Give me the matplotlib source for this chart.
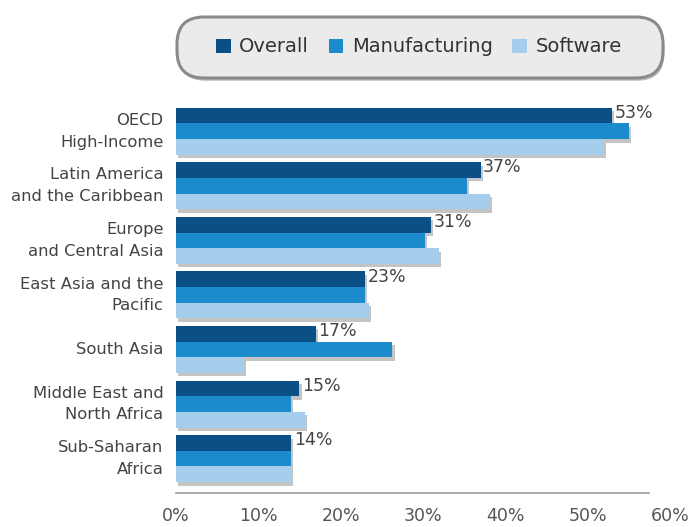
import numpy as np
import matplotlib.pyplot as plt
import matplotlib.patheffects as pe
from matplotlib.patches import FancyBboxPatch
from matplotlib.transforms import Affine2D

regions = ['OECD\nHigh-Income', 'Latin America\nand the Caribbean', 'Europe\nand Central Asia',
           'East Asia and the\nPacific', 'South Asia', 'Middle East and\nNorth Africa',
           'Sub-Saharan\nAfrica']
overall = [53, 37, 31, 23, 17, 15, 14]
manufacturing = [55, 35.3, 30.2, 23, 26.3, 14, 14]
software = [52, 38.2, 32, 23.5, 8.3, 15.7, 14]
xticks = [0, 10, 20, 30, 40, 50, 60]

c_overall = '#0b4f87'
c_manuf = '#1b8bcb'
c_soft = '#a5cdec'
txt = '#444444'

W, H = 697, 527
fig = plt.figure(figsize=(W / 100, H / 100), dpi=100)
ax = fig.add_axes([0.2525, 0.0645, 0.7085, 0.7455])

y = np.arange(len(regions))
h = 0.287
shadow = [pe.SimplePatchShadow(offset=(1.5, -2.5), shadow_rgbFace='#8a8a8a', alpha=0.5), pe.Normal()]

# lower bars drawn on top so each shadow only shows at the bar ends
b1 = ax.barh(y - h, overall, height=h, color=c_overall, label='Overall', path_effects=shadow, zorder=1)
b2 = ax.barh(y, manufacturing, height=h, color=c_manuf, label='Manufacturing', path_effects=shadow, zorder=2)
b3 = ax.barh(y + h, software, height=h, color=c_soft, label='Software', path_effects=shadow, zorder=3)

# value labels next to the overall bars
for yi, v in zip(y, overall):
    ax.text(v + 0.3, yi - h - 0.05, f'{v}%', va='center', ha='left', fontsize=12.5, color=txt, zorder=4)

ax.set_xlim(0, 60)
ax.set_ylim(6.63, -0.57)
ax.set_yticks(y)
ax.set_yticklabels(regions, fontsize=11.8, color=txt, linespacing=1.55, va='center')
ax.set_xticks(xticks)
ax.set_xticklabels([f'{t}%' for t in xticks], fontsize=12.5, color='#555555')
ax.tick_params(length=0)
ax.tick_params(axis='y', pad=9)
ax.tick_params(axis='x', pad=10)
for s in ['top', 'right', 'left']:
    ax.spines[s].set_visible(False)
ax.spines['bottom'].set_color('#999999')
ax.spines['bottom'].set_linewidth(1.2)
ax.spines['bottom'].set_bounds(0, 57.5)

# rounded legend box, laid out in pixel units
px = Affine2D().scale(1 / W, 1 / H) + fig.transFigure
box = FancyBboxPatch((177, 449), 486, 61, boxstyle='round,pad=0,rounding_size=27',
                     transform=px, facecolor='#ebebeb', edgecolor='#8a8a8a', linewidth=2.2,
                     path_effects=[pe.SimplePatchShadow(offset=(1, -2), alpha=0.35), pe.Normal()])
fig.patches.append(box)

leg = fig.legend(handles=[b1, b2, b3], loc='center', bbox_to_anchor=(0.601, 0.911),
                 ncol=3, fontsize=14, frameon=False, handlelength=0.75, handleheight=0.75,
                 handletextpad=0.45, columnspacing=1.0)
for t in leg.get_texts():
    t.set_color('#333333')
for hd in leg.legend_handles:
    hd.set_path_effects([])

fig.savefig('out.png', dpi=100, facecolor='white')
